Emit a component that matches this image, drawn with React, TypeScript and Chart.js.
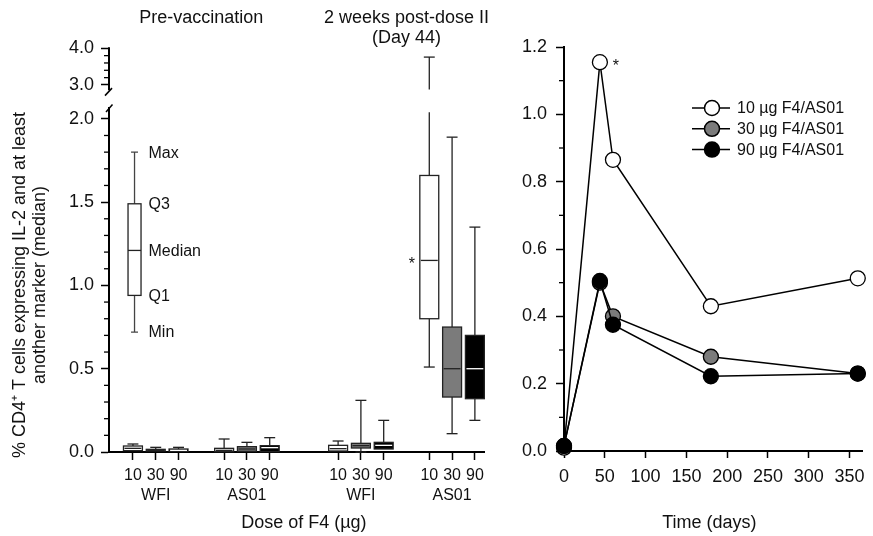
import React, { useEffect, useRef } from 'react';
import { Chart, registerables } from 'chart.js';

Chart.register(...registerables);

const FONT = '"Liberation Sans", Arial, Helvetica, sans-serif';

// ---------------- Left panel (box plots) ----------------
const doseLabels = ['10', '30', '90'];
const groupLabels = ['WFI', 'AS01', 'WFI', 'AS01'];
const periodTitles = ['Pre-vaccination', '2 weeks post-dose II'];
const periodSubtitle = '(Day 44)';
const leftYTitle = ['% CD4\u207A T cells expressing IL-2 and at least', 'another marker (median)'];
const leftXTitle = 'Dose of F4 (\u00B5g)';

// slot index of each box along the dose axis
const boxSlots = [0, 1, 2, 4, 5, 6, 9, 10, 11, 13, 14, 15];
const boxMin = [0, 0, 0, 0, 0, 0, 0, 0, 0, 0.51, 0.11, 0.19];
const boxQ1 = [0.008, 0.006, 0.004, 0.002, 0.004, 0.002, 0.006, 0.024, 0.018, 0.8, 0.33, 0.32];
const boxMedian = [0.022, 0.01, 0.01, 0.01, 0.018, 0.026, 0.02, 0.038, 0.04, 1.15, 0.5, 0.5];
const boxQ3 = [0.036, 0.016, 0.018, 0.022, 0.032, 0.038, 0.04, 0.052, 0.058, 1.66, 0.75, 0.7];
const boxMax = [0.048, 0.028, 0.028, 0.078, 0.058, 0.086, 0.066, 0.31, 0.19, 3.76, 1.89, 1.35];

const keyValues = [0.72, 0.94, 1.21, 1.49, 1.8];
const keyLabels = ['Min', 'Q1', 'Median', 'Q3', 'Max'];

const yLowTicks = [0, 0.5, 1.0, 1.5, 2.0];
const yHighTicks = [3.0, 4.0];

// ---------------- Right panel (time course) ----------------
const days = [0, 44, 60, 180, 360];
const series10 = [0.01, 1.155, 0.865, 0.43, 0.513];
const series30 = [0.015, 0.5, 0.4, 0.28, 0.23];
const series90 = [0.015, 0.505, 0.375, 0.222, 0.23];
const seriesLabels = ['10 \u00B5g F4/AS01', '30 \u00B5g F4/AS01', '90 \u00B5g F4/AS01'];
const timeTicks = [0, 50, 100, 150, 200, 250, 300, 350];
const rightYTicks = [0, 0.2, 0.4, 0.6, 0.8, 1.0, 1.2];
const rightXTitle = 'Time (days)';

const doseFills = ['#ffffff', '#7b7b7b', '#000000'];

const LOW_MAX = 2.065;
const HIGH_MIN = 2.373;
const HIGH_MAX = 4.035;
const LOW_BREAK = 2.04;
const HIGH_BREAK = 2.88;

const leftPlugin = {
  id: 'leftBoxes',
  afterDraw(chart: any) {
    const ctx = chart.ctx;
    const xs = chart.scales.x;
    const lo = chart.scales.yLow;
    const hi = chart.scales.yHigh;
    const ca = chart.chartArea;
    const axX = ca.left;
    const unit = xs.getPixelForValue(1) - xs.getPixelForValue(0);
    const yOf = (v: number) => (v <= LOW_MAX ? lo.getPixelForValue(v) : hi.getPixelForValue(v));

    ctx.save();
    // upper axis segment
    ctx.strokeStyle = '#000';
    ctx.lineWidth = 2;
    ctx.beginPath();
    ctx.moveTo(axX, hi.getPixelForValue(HIGH_BREAK - 0.02));
    ctx.lineTo(axX, hi.getPixelForValue(4.0) - 1);
    ctx.stroke();
    // break marks
    ctx.lineWidth = 1.5;
    const yb1 = hi.getPixelForValue(HIGH_BREAK - 0.02) + 1.5;
    ctx.beginPath();
    ctx.moveTo(axX - 4, yb1 + 4);
    ctx.lineTo(axX + 3, yb1 - 3.5);
    ctx.stroke();
    const yb2 = lo.getPixelForValue(LOW_MAX);
    ctx.beginPath();
    ctx.moveTo(axX - 3, yb2 + 4);
    ctx.lineTo(axX + 3.5, yb2 - 3.5);
    ctx.stroke();

    // minor ticks
    ctx.lineWidth = 1.3;
    for (let k = 1; k <= 20; k++) {
      if (k % 5 === 0) continue;
      const y = lo.getPixelForValue(k / 10);
      ctx.beginPath();
      ctx.moveTo(axX - 5, y);
      ctx.lineTo(axX, y);
      ctx.stroke();
    }
    for (let k = 1; k <= 4; k++) {
      const y = hi.getPixelForValue(3 + k * 0.2);
      ctx.beginPath();
      ctx.moveTo(axX - 5, y);
      ctx.lineTo(axX, y);
      ctx.stroke();
    }

    const drawWhisker = (x: number, from: number, to: number) => {
      ctx.beginPath();
      if (to > LOW_MAX) {
        ctx.moveTo(x, yOf(from));
        ctx.lineTo(x, lo.getPixelForValue(LOW_BREAK));
        ctx.moveTo(x, hi.getPixelForValue(HIGH_BREAK));
        ctx.lineTo(x, hi.getPixelForValue(to));
      } else {
        ctx.moveTo(x, yOf(from));
        ctx.lineTo(x, yOf(to));
      }
      ctx.stroke();
    };
    const drawCap = (x: number, v: number, w: number) => {
      const y = yOf(v);
      ctx.beginPath();
      ctx.moveTo(x - w / 2, y);
      ctx.lineTo(x + w / 2, y);
      ctx.stroke();
    };

    const boxW = unit * 0.83;
    const capW = unit * 0.48;
    for (let i = 0; i < boxSlots.length; i++) {
      const x = xs.getPixelForValue(boxSlots[i]);
      const dose = i % 3;
      ctx.strokeStyle = '#222';
      ctx.lineWidth = 1.3;
      drawWhisker(x, boxQ3[i], boxMax[i]);
      drawCap(x, boxMax[i], capW);
      if (boxQ1[i] - boxMin[i] > 0.02) {
        drawWhisker(x, boxQ1[i], boxMin[i]);
        drawCap(x, boxMin[i], capW);
      }
      const yTop = yOf(boxQ3[i]);
      const yBot = yOf(boxQ1[i]);
      ctx.fillStyle = doseFills[dose];
      ctx.fillRect(x - boxW / 2, yTop, boxW, yBot - yTop);
      ctx.strokeRect(x - boxW / 2, yTop, boxW, yBot - yTop);
      ctx.strokeStyle = dose === 2 ? '#ffffff' : '#222';
      const ym = yOf(boxMedian[i]);
      ctx.beginPath();
      ctx.moveTo(x - boxW / 2 + 1, ym);
      ctx.lineTo(x + boxW / 2 - 1, ym);
      ctx.stroke();
    }

    // asterisk beside the 10 ug AS01 post-dose box
    ctx.fillStyle = '#111';
    ctx.font = `16px ${FONT}`;
    ctx.textAlign = 'center';
    ctx.textBaseline = 'alphabetic';
    const sx = xs.getPixelForValue(boxSlots[9]) - boxW / 2 - 8;
    ctx.fillText('*', sx, yOf(boxMedian[9]) + 9);

    // key box
    const kx = xs.getPixelForValue(0.07);
    const kw = 13;
    ctx.strokeStyle = '#444';
    ctx.lineWidth = 1.3;
    ctx.beginPath();
    ctx.moveTo(kx, yOf(keyValues[3]));
    ctx.lineTo(kx, yOf(keyValues[4]));
    ctx.moveTo(kx, yOf(keyValues[1]));
    ctx.lineTo(kx, yOf(keyValues[0]));
    ctx.moveTo(kx - 3.5, yOf(keyValues[4]));
    ctx.lineTo(kx + 3.5, yOf(keyValues[4]));
    ctx.moveTo(kx - 3.5, yOf(keyValues[0]));
    ctx.lineTo(kx + 3.5, yOf(keyValues[0]));
    ctx.stroke();
    ctx.strokeStyle = '#222';
    ctx.fillStyle = '#fff';
    const kt = yOf(keyValues[3]);
    const kb = yOf(keyValues[1]);
    ctx.fillRect(kx - kw / 2, kt, kw, kb - kt);
    ctx.strokeRect(kx - kw / 2, kt, kw, kb - kt);
    ctx.beginPath();
    ctx.moveTo(kx - kw / 2, yOf(keyValues[2]));
    ctx.lineTo(kx + kw / 2, yOf(keyValues[2]));
    ctx.stroke();
    ctx.fillStyle = '#111';
    ctx.textAlign = 'left';
    ctx.textBaseline = 'middle';
    ctx.font = `16px ${FONT}`;
    for (let i = 0; i < keyLabels.length; i++) {
      ctx.fillText(keyLabels[i], kx + 14, yOf(keyValues[i]) + 1);
    }

    // titles
    ctx.font = `18px ${FONT}`;
    ctx.textAlign = 'center';
    ctx.textBaseline = 'alphabetic';
    ctx.fillText(periodTitles[0], xs.getPixelForValue(3), ca.top - 24);
    ctx.fillText(periodTitles[1], xs.getPixelForValue(12), ca.top - 24);
    ctx.fillText(periodSubtitle, xs.getPixelForValue(12), ca.top - 4);
    ctx.fillText(leftXTitle, xs.getPixelForValue(7.5), xs.top + 76);

    // y title
    ctx.save();
    ctx.translate(0, 285);
    ctx.rotate(-Math.PI / 2);
    ctx.fillText(leftYTitle[0], 0, 25);
    ctx.fillText(leftYTitle[1], 0, 45);
    ctx.restore();

    ctx.restore();
  },
};

const rightPlugin = {
  id: 'rightExtras',
  afterDraw(chart: any) {
    const ctx = chart.ctx;
    const xs = chart.scales.x;
    const ys = chart.scales.y;
    const ca = chart.chartArea;
    ctx.save();
    ctx.strokeStyle = '#000';
    ctx.lineWidth = 1.3;
    for (let k = 1; k < 12; k += 2) {
      const y = ys.getPixelForValue(k / 10);
      ctx.beginPath();
      ctx.moveTo(ca.left - 5, y);
      ctx.lineTo(ca.left, y);
      ctx.stroke();
    }
    // asterisk
    ctx.fillStyle = '#111';
    ctx.font = `16px ${FONT}`;
    ctx.textAlign = 'center';
    ctx.textBaseline = 'alphabetic';
    ctx.fillText('*', xs.getPixelForValue(days[1]) + 16, ys.getPixelForValue(series10[1]) + 9);

    // legend
    const fills = doseFills;
    for (let i = 0; i < seriesLabels.length; i++) {
      const y = ca.top + 61 + i * 20.8;
      const x0 = ca.left + 128;
      ctx.strokeStyle = '#000';
      ctx.lineWidth = 1.5;
      ctx.beginPath();
      ctx.moveTo(x0, y);
      ctx.lineTo(x0 + 38, y);
      ctx.stroke();
      ctx.beginPath();
      ctx.arc(x0 + 20, y, 7.5, 0, Math.PI * 2);
      ctx.fillStyle = fills[i];
      ctx.fill();
      ctx.stroke();
      ctx.fillStyle = '#111';
      ctx.font = `16px ${FONT}`;
      ctx.textAlign = 'left';
      ctx.textBaseline = 'middle';
      ctx.fillText(seriesLabels[i], x0 + 45, y + 1);
    }

    // x title
    ctx.font = `18px ${FONT}`;
    ctx.textAlign = 'center';
    ctx.textBaseline = 'alphabetic';
    ctx.fillStyle = '#111';
    ctx.fillText(rightXTitle, (ca.left + ca.right) / 2 - 4, xs.top + 77);
    ctx.restore();
  },
};

export default function App() {
  const leftRef = useRef<HTMLCanvasElement>(null);
  const rightRef = useRef<HTMLCanvasElement>(null);

  useEffect(() => {
    const tickFont = { family: FONT, size: 18 };
    const left = new Chart(leftRef.current as HTMLCanvasElement, {
      type: 'scatter',
      data: { datasets: [] },
      options: {
        animation: false,
        responsive: false,
        layout: { padding: { top: 47, right: 11, left: 0, bottom: 0 } },
        plugins: { legend: { display: false }, tooltip: { enabled: false } },
        scales: {
          x: {
            type: 'linear',
            position: 'bottom',
            min: -1.05,
            max: 15.4,
            afterBuildTicks: (s: any) => {
              s.ticks = boxSlots.map((v) => ({ value: v }));
            },
            afterFit: (s: any) => {
              s.height = 84;
            },
            ticks: {
              font: { family: FONT, size: 16, lineHeight: 1.25 },
              color: '#111',
              padding: 6,
              autoSkip: false,
              maxRotation: 0,
              callback: (_v: any, i: number) =>
                i % 3 === 1 ? [doseLabels[1], groupLabels[Math.floor(i / 3)]] : doseLabels[i % 3],
            },
            grid: { drawOnChartArea: false, drawTicks: true, tickLength: 8, tickWidth: 1.5, tickColor: '#000' },
            border: { display: true, color: '#000', width: 2 },
          },
          yLow: {
            type: 'linear',
            position: 'left',
            stack: 'left',
            stackWeight: 344,
            min: 0,
            max: LOW_MAX,
            afterBuildTicks: (s: any) => {
              s.ticks = yLowTicks.map((v) => ({ value: v }));
            },
            afterFit: (s: any) => {
              s.width = 109;
            },
            ticks: { font: tickFont, color: '#111', padding: 7, callback: (v: any) => Number(v).toFixed(1) },
            grid: { drawOnChartArea: false, tickLength: 8, tickWidth: 1.5, tickColor: '#000' },
            border: { display: true, color: '#000', width: 2 },
          },
          yHigh: {
            type: 'linear',
            position: 'left',
            stack: 'left',
            stackWeight: 61,
            min: HIGH_MIN,
            max: HIGH_MAX,
            afterBuildTicks: (s: any) => {
              s.ticks = yHighTicks.map((v) => ({ value: v }));
            },
            afterFit: (s: any) => {
              s.width = 109;
            },
            ticks: { font: tickFont, color: '#111', padding: 7, callback: (v: any) => Number(v).toFixed(1) },
            grid: { drawOnChartArea: false, tickLength: 8, tickWidth: 1.5, tickColor: '#000' },
            border: { display: false },
          },
        },
      } as any,
      plugins: [leftPlugin],
    });

    const mk = (label: string, vals: number[], fill: string, order: number) => ({
      label,
      data: days.map((d, i) => ({ x: d, y: vals[i] })),
      borderColor: '#000',
      borderWidth: 1.5,
      pointRadius: 7.5,
      pointBackgroundColor: fill,
      pointBorderColor: '#000',
      pointBorderWidth: 1.3,
      order,
      clip: false as any,
      tension: 0,
    });

    const right = new Chart(rightRef.current as HTMLCanvasElement, {
      type: 'line',
      data: {
        datasets: [
          mk(seriesLabels[0], series10, doseFills[0], 2),
          mk(seriesLabels[1], series30, doseFills[1], 1),
          mk(seriesLabels[2], series90, doseFills[2], 0),
        ],
      },
      options: {
        animation: false,
        responsive: false,
        layout: { padding: { top: 47, right: 4, left: 0, bottom: 0 } },
        plugins: { legend: { display: false }, tooltip: { enabled: false } },
        scales: {
          x: {
            type: 'linear',
            min: 0,
            max: 366,
            afterBuildTicks: (s: any) => {
              s.ticks = timeTicks.map((v) => ({ value: v }));
            },
            afterFit: (s: any) => {
              s.height = 85;
            },
            ticks: { font: tickFont, color: '#111', padding: 8, maxRotation: 0, autoSkip: false },
            grid: { drawOnChartArea: false, tickLength: 7, tickWidth: 1.5, tickColor: '#000' },
            border: { display: true, color: '#000', width: 2 },
          },
          y: {
            type: 'linear',
            min: 0,
            max: 1.2,
            afterBuildTicks: (s: any) => {
              s.ticks = rightYTicks.map((v) => ({ value: v }));
            },
            afterFit: (s: any) => {
              s.width = 69;
            },
            ticks: { font: tickFont, color: '#111', padding: 9, callback: (v: any) => Number(v).toFixed(1) },
            grid: { drawOnChartArea: false, tickLength: 8, tickWidth: 1.5, tickColor: '#000' },
            border: { display: true, color: '#000', width: 2 },
          },
        },
      } as any,
      plugins: [rightPlugin],
    });

    return () => {
      left.destroy();
      right.destroy();
    };
  }, []);

  return (
    <div style={{ position: 'fixed', left: 0, top: 0, width: 873, height: 536, background: '#fff' }}>
      <canvas ref={leftRef} width={495} height={536} style={{ position: 'absolute', left: 0, top: 0, width: 495, height: 536 }} />
      <canvas ref={rightRef} width={378} height={536} style={{ position: 'absolute', left: 495, top: 0, width: 378, height: 536 }} />
    </div>
  );
}
